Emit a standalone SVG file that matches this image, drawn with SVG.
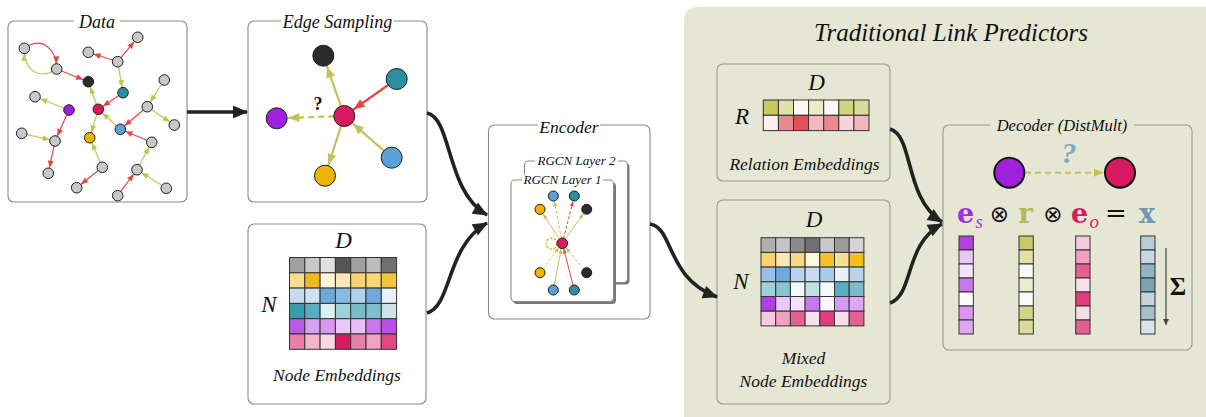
<svg xmlns="http://www.w3.org/2000/svg" width="1206" height="417" viewBox="0 0 1206 417">
<style>
.panel{fill:#fff;stroke:#8c8c8c;stroke-width:1.1}
.sub{fill:#e6e6d4;stroke:#9a9a90;stroke-width:1.1}
.ttl{font-family:"Liberation Serif",serif;font-style:italic;fill:#111;text-anchor:middle}
.nd{stroke:#1e1e1e;stroke-width:1}
.g{fill:#c8c8c8}
.er{stroke:#e04848;stroke-width:1.2;fill:none}
.eo{stroke:#c2c25a;stroke-width:1.2;fill:none}
.br{stroke:#e04848;stroke-width:2.2;fill:none}
.bo{stroke:#c2c25a;stroke-width:2.2;fill:none}
.sr{stroke:#e04848;stroke-width:1;fill:none}
.so{stroke:#c2c25a;stroke-width:1;fill:none}
.dash{stroke-dasharray:3,2}
.big{stroke:#222;stroke-width:3.6;fill:none}
.cell{stroke:#333;stroke-width:1}
.math{font-family:"Liberation Serif",serif;font-style:italic;fill:#111;text-anchor:middle}
</style>
<defs>
<marker id="mR" markerUnits="userSpaceOnUse" orient="auto" refX="12.6" refY="3" markerWidth="8" markerHeight="6" overflow="visible"><path d="M0,0 L7,3 L0,6 z" fill="#e04848"/></marker>
<marker id="mO" markerUnits="userSpaceOnUse" orient="auto" refX="12.6" refY="3" markerWidth="8" markerHeight="6" overflow="visible"><path d="M0,0 L7,3 L0,6 z" fill="#c2c25a"/></marker>
<marker id="bR" markerUnits="userSpaceOnUse" orient="auto" refX="22.5" refY="4.5" markerWidth="11" markerHeight="9" overflow="visible"><path d="M0,0 L11,4.5 L0,9 z" fill="#e04848"/></marker>
<marker id="bO" markerUnits="userSpaceOnUse" orient="auto" refX="22.5" refY="4.5" markerWidth="11" markerHeight="9" overflow="visible"><path d="M0,0 L11,4.5 L0,9 z" fill="#c2c25a"/></marker>
<marker id="sR" markerUnits="userSpaceOnUse" orient="auto" refX="10.5" refY="2" markerWidth="5" markerHeight="4" overflow="visible"><path d="M0,0 L5,2 L0,4 z" fill="#e04848"/></marker>
<marker id="sO" markerUnits="userSpaceOnUse" orient="auto" refX="10.5" refY="2" markerWidth="5" markerHeight="4" overflow="visible"><path d="M0,0 L5,2 L0,4 z" fill="#c2c25a"/></marker>
<marker id="dO" markerUnits="userSpaceOnUse" orient="auto" refX="10" refY="4" markerWidth="10" markerHeight="8" overflow="visible"><path d="M0,0 L10,4 L0,8 z" fill="#c2c25a"/></marker>
<marker id="big" markerUnits="userSpaceOnUse" orient="auto" refX="14" refY="6.5" markerWidth="15" markerHeight="13" overflow="visible"><path d="M0,0 L15,6.5 L0,13 z" fill="#222"/></marker>
<marker id="dn" markerUnits="userSpaceOnUse" orient="auto" refX="6" refY="3" markerWidth="6" markerHeight="6" overflow="visible"><path d="M0,0 L6,3 L0,6 z" fill="#444"/></marker>
</defs>

<!-- Traditional link predictors background -->
<g id="traditional">
<rect x="684" y="7" width="540" height="430" rx="13" fill="#e6e6d4"/>
<text class="ttl" x="951" y="41" font-size="25">Traditional Link Predictors</text>
</g>

<!-- Data -->
<g id="data">
<rect class="panel" x="8" y="21" width="179" height="181" rx="6"/>
<rect x="74" y="14" width="46" height="14" fill="#fff"/>
<text class="ttl" x="97" y="27.5" font-size="18">Data</text>
<path class="er" d="M24.3,48.3 C42,36 56,48 56.7,69" marker-end="url(#mR)"/>
<path class="eo" d="M56.7,69 C40,80 24,72 24.3,48.3" marker-end="url(#mO)"/>
<line class="er" x1="56.7" y1="69" x2="88.3" y2="81.7" marker-end="url(#mR)"/>
<line class="er" x1="117.7" y1="61.7" x2="88.3" y2="52.3" marker-end="url(#mR)"/>
<line class="er" x1="117.7" y1="61.7" x2="137.7" y2="37.3" marker-end="url(#mR)"/>
<line class="eo" x1="117.7" y1="61.7" x2="123" y2="92.7" marker-end="url(#mO)"/>
<line class="er" x1="123" y1="92.7" x2="98.3" y2="109.3" marker-end="url(#mR)"/>
<line class="eo" x1="98.3" y1="109.3" x2="88.3" y2="81.7" marker-end="url(#mO)"/>
<line class="eo" x1="69" y1="110" x2="35" y2="96.7" marker-end="url(#mO)"/>
<line class="er" x1="69" y1="110" x2="55" y2="141" marker-end="url(#mR)"/>
<line class="eo" x1="21.7" y1="133.3" x2="55" y2="141" marker-end="url(#mO)"/>
<line class="er" x1="55" y1="141" x2="48.3" y2="173.3" marker-end="url(#mR)"/>
<line class="eo" x1="98.3" y1="109.3" x2="89.7" y2="137.7" marker-end="url(#mO)"/>
<line class="eo" x1="120.3" y1="129.3" x2="98.3" y2="109.3" marker-end="url(#mO)"/>
<line class="eo" x1="164.3" y1="80" x2="147.3" y2="106.7" marker-end="url(#mO)"/>
<line class="er" x1="147.3" y1="106.7" x2="120.3" y2="129.3" marker-end="url(#mR)"/>
<line class="eo" x1="147.3" y1="106.7" x2="174.3" y2="125" marker-end="url(#mO)"/>
<line class="er" x1="151.7" y1="142.3" x2="120.3" y2="129.3" marker-end="url(#mR)"/>
<line class="eo" x1="102.3" y1="167.3" x2="89.7" y2="137.7" marker-end="url(#mO)"/>
<line class="er" x1="102.3" y1="167.3" x2="76.7" y2="187.7" marker-end="url(#mR)"/>
<line class="eo" x1="137" y1="169.7" x2="151.7" y2="142.3" marker-end="url(#mO)"/>
<line class="er" x1="117.7" y1="195.7" x2="137" y2="169.7" marker-end="url(#mR)"/>
<line class="eo" x1="166.3" y1="188.3" x2="137" y2="169.7" marker-end="url(#mO)"/>
<g class="nd">
<circle class="g" cx="24.3" cy="48.3" r="5.3"/>
<circle class="g" cx="56.7" cy="69" r="5.3"/>
<circle cx="88.3" cy="81.7" r="5.3" fill="#2b2b2b"/>
<circle class="g" cx="137.7" cy="37.3" r="5.3"/>
<circle class="g" cx="88.3" cy="52.3" r="5.3"/>
<circle class="g" cx="117.7" cy="61.7" r="5.3"/>
<circle cx="123" cy="92.7" r="5.3" fill="#2a8fa3"/>
<circle class="g" cx="164.3" cy="80" r="5.3"/>
<circle class="g" cx="35" cy="96.7" r="5.3"/>
<circle cx="69" cy="110" r="5.3" fill="#a020e0"/>
<circle cx="98.3" cy="109.3" r="5.3" fill="#d81b60"/>
<circle class="g" cx="147.3" cy="106.7" r="5.3"/>
<circle class="g" cx="174.3" cy="125" r="5.3"/>
<circle cx="120.3" cy="129.3" r="5.3" fill="#5ca0d8"/>
<circle class="g" cx="21.7" cy="133.3" r="5.3"/>
<circle class="g" cx="55" cy="141" r="5.3"/>
<circle cx="89.7" cy="137.7" r="5.3" fill="#f0b400"/>
<circle class="g" cx="151.7" cy="142.3" r="5.3"/>
<circle class="g" cx="48.3" cy="173.3" r="5.3"/>
<circle class="g" cx="102.3" cy="167.3" r="5.3"/>
<circle class="g" cx="137" cy="169.7" r="5.3"/>
<circle class="g" cx="76.7" cy="187.7" r="5.3"/>
<circle class="g" cx="117.7" cy="195.7" r="5.3"/>
<circle class="g" cx="166.3" cy="188.3" r="5.3"/>
</g>
</g>

<!-- Edge Sampling -->
<g id="edge-sampling">
<rect class="panel" x="248" y="21" width="179" height="181" rx="6"/>
<rect x="281" y="14" width="113" height="14" fill="#fff"/>
<text class="ttl" x="337.5" y="27.5" font-size="18">Edge Sampling</text>
<line class="bo" x1="344.3" y1="116" x2="323.3" y2="55.7" marker-end="url(#bO)"/>
<line class="br" x1="396.7" y1="79" x2="344.3" y2="116" marker-end="url(#bR)"/>
<line class="bo" x1="344.3" y1="116" x2="276.7" y2="118.3" stroke-dasharray="6,4" marker-end="url(#bO)"/>
<line class="bo" x1="391.7" y1="157.7" x2="344.3" y2="116" marker-end="url(#bO)"/>
<line class="bo" x1="344.3" y1="116" x2="325" y2="175.7" marker-end="url(#bO)"/>
<g class="nd" stroke-width="1.3">
<circle cx="323.3" cy="55.7" r="10.5" fill="#2b2b2b"/>
<circle cx="396.7" cy="79" r="10.5" fill="#2a8fa3"/>
<circle cx="276.7" cy="118.3" r="10.5" fill="#a020e0"/>
<circle cx="344.3" cy="116" r="10.5" fill="#d81b60"/>
<circle cx="391.7" cy="157.7" r="10.5" fill="#5ca0d8"/>
<circle cx="325" cy="175.7" r="10.5" fill="#f0b400"/>
</g>
<text x="318" y="110" font-family="Liberation Serif, serif" font-weight="bold" font-size="18" fill="#111" text-anchor="middle">?</text>
</g>

<!-- Node Embeddings -->
<g id="node-embeddings">
<rect class="panel" x="248" y="224" width="178" height="180" rx="6"/>
<text class="math" x="343.5" y="248" font-size="23">D</text>
<text class="math" x="269" y="312" font-size="23">N</text>
<g class="cell">
<rect x="289.5" y="257.5" width="15.3" height="15.3" fill="#a0a0a0"/><rect x="304.8" y="257.5" width="15.3" height="15.3" fill="#c8c8c8"/><rect x="320.1" y="257.5" width="15.3" height="15.3" fill="#e0e0e0"/><rect x="335.4" y="257.5" width="15.3" height="15.3" fill="#555555"/><rect x="350.7" y="257.5" width="15.3" height="15.3" fill="#a0a0a0"/><rect x="366" y="257.5" width="15.3" height="15.3" fill="#bcbcbc"/><rect x="381.3" y="257.5" width="15.3" height="15.3" fill="#707070"/>
<rect x="289.5" y="272.8" width="15.3" height="15.3" fill="#f9dc90"/><rect x="304.8" y="272.8" width="15.3" height="15.3" fill="#f0b820"/><rect x="320.1" y="272.8" width="15.3" height="15.3" fill="#fdf3d8"/><rect x="335.4" y="272.8" width="15.3" height="15.3" fill="#fbe8b8"/><rect x="350.7" y="272.8" width="15.3" height="15.3" fill="#f8d470"/><rect x="366" y="272.8" width="15.3" height="15.3" fill="#f9d878"/><rect x="381.3" y="272.8" width="15.3" height="15.3" fill="#f4c440"/>
<rect x="289.5" y="288.1" width="15.3" height="15.3" fill="#c8dcf0"/><rect x="304.8" y="288.1" width="15.3" height="15.3" fill="#cfe0f0"/><rect x="320.1" y="288.1" width="15.3" height="15.3" fill="#6ea8dc"/><rect x="335.4" y="288.1" width="15.3" height="15.3" fill="#88b8e4"/><rect x="350.7" y="288.1" width="15.3" height="15.3" fill="#b0d0ec"/><rect x="366" y="288.1" width="15.3" height="15.3" fill="#6ea8dc"/><rect x="381.3" y="288.1" width="15.3" height="15.3" fill="#e8f0f8"/>
<rect x="289.5" y="303.4" width="15.3" height="15.3" fill="#3a9ab0"/><rect x="304.8" y="303.4" width="15.3" height="15.3" fill="#5aacc0"/><rect x="320.1" y="303.4" width="15.3" height="15.3" fill="#dcf0f2"/><rect x="335.4" y="303.4" width="15.3" height="15.3" fill="#a0d0d8"/><rect x="350.7" y="303.4" width="15.3" height="15.3" fill="#78bcc8"/><rect x="366" y="303.4" width="15.3" height="15.3" fill="#80c0cc"/><rect x="381.3" y="303.4" width="15.3" height="15.3" fill="#cce4e8"/>
<rect x="289.5" y="318.7" width="15.3" height="15.3" fill="#b85ce8"/><rect x="304.8" y="318.7" width="15.3" height="15.3" fill="#d8a0f0"/><rect x="320.1" y="318.7" width="15.3" height="15.3" fill="#d898f0"/><rect x="335.4" y="318.7" width="15.3" height="15.3" fill="#e8c8f8"/><rect x="350.7" y="318.7" width="15.3" height="15.3" fill="#e8c0f8"/><rect x="366" y="318.7" width="15.3" height="15.3" fill="#c878ec"/><rect x="381.3" y="318.7" width="15.3" height="15.3" fill="#b850e8"/>
<rect x="289.5" y="334" width="15.3" height="15.3" fill="#e880a8"/><rect x="304.8" y="334" width="15.3" height="15.3" fill="#f4b4cc"/><rect x="320.1" y="334" width="15.3" height="15.3" fill="#f8d8e4"/><rect x="335.4" y="334" width="15.3" height="15.3" fill="#d81b60"/><rect x="350.7" y="334" width="15.3" height="15.3" fill="#e880a8"/><rect x="366" y="334" width="15.3" height="15.3" fill="#f4a0c0"/><rect x="381.3" y="334" width="15.3" height="15.3" fill="#e04880"/>
</g>
<text class="ttl" x="337" y="381" font-size="17.5">Node Embeddings</text>
</g>

<!-- Encoder -->
<g id="encoder">
<rect class="panel" x="488.5" y="125" width="161.5" height="194" rx="6"/>
<rect x="538" y="118" width="62" height="14" fill="#fff"/>
<text class="ttl" x="569" y="133" font-size="17.5">Encoder</text>
<g id="rgcn-layer-2">
<rect x="526.5" y="163" width="103" height="121.5" rx="4" fill="#777"/>
<rect class="panel" x="524.5" y="161" width="103" height="121.5" rx="4"/>
<rect x="535" y="156" width="83" height="10" fill="#fff"/>
<text class="ttl" x="576.5" y="165" font-size="13">RGCN Layer 2</text>
</g>
<g id="rgcn-layer-1">
<rect x="513" y="182.5" width="103" height="121.5" rx="4" fill="#777"/>
<rect class="panel" x="511" y="180" width="102.5" height="121.5" rx="4"/>
<rect x="522" y="175" width="81" height="10" fill="#fff"/>
<text class="ttl" x="562.5" y="184" font-size="13">RGCN Layer 1</text>
<circle cx="551.5" cy="243.6" r="5.6" fill="none" stroke="#f0a800" stroke-width="1.3" stroke-dasharray="2.5,1.5"/>
<line class="so" x1="562.3" y1="243.3" x2="540" y2="209.3" marker-end="url(#sO)"/>
<line class="so dash" x1="562.3" y1="243.3" x2="553.3" y2="196" marker-end="url(#sO)"/>
<line class="sr dash" x1="562.3" y1="243.3" x2="574.3" y2="196" marker-end="url(#sR)"/>
<line class="so" x1="562.3" y1="243.3" x2="586.7" y2="209.3" marker-end="url(#sO)"/>
<line class="so dash" x1="540" y1="272.7" x2="562.3" y2="243.3" marker-end="url(#sO)"/>
<line class="so dash" x1="586.7" y1="272.7" x2="562.3" y2="243.3" marker-end="url(#sO)"/>
<line class="so" x1="553.3" y1="290" x2="562.3" y2="243.3" marker-end="url(#sO)"/>
<line class="sr" x1="574.3" y1="290" x2="562.3" y2="243.3" marker-end="url(#sR)"/>
<g class="nd">
<circle cx="553.3" cy="196" r="5" fill="#5ca0d8"/>
<circle cx="574.3" cy="196" r="5" fill="#2a8fa3"/>
<circle cx="540" cy="209.3" r="5" fill="#f0b400"/>
<circle cx="586.7" cy="209.3" r="5" fill="#2b2b2b"/>
<circle cx="562.3" cy="243.3" r="5.3" fill="#d81b60"/>
<circle cx="540" cy="272.7" r="5" fill="#f0b400"/>
<circle cx="586.7" cy="272.7" r="5" fill="#2b2b2b"/>
<circle cx="553.3" cy="290" r="5" fill="#5ca0d8"/>
<circle cx="574.3" cy="290" r="5" fill="#2a8fa3"/>
</g>
</g>
</g>

<!-- Relation Embeddings -->
<g id="relation-embeddings">
<rect class="sub" x="717" y="64" width="173" height="117" rx="6"/>
<text class="math" x="816.5" y="90" font-size="23">D</text>
<text class="math" x="742" y="124" font-size="23">R</text>
<g class="cell">
<rect x="763.3" y="100" width="15.1" height="15.3" fill="#c8c860"/><rect x="778.4" y="100" width="15.1" height="15.3" fill="#e0e0a8"/><rect x="793.5" y="100" width="15.1" height="15.3" fill="#f8f8f0"/><rect x="808.6" y="100" width="15.1" height="15.3" fill="#ececc8"/><rect x="823.7" y="100" width="15.1" height="15.3" fill="#fafaf2"/><rect x="838.8" y="100" width="15.1" height="15.3" fill="#d0d480"/><rect x="853.9" y="100" width="15.1" height="15.3" fill="#d8dc98"/>
<rect x="763.3" y="115.3" width="15.1" height="15.3" fill="#fdf0f0"/><rect x="778.4" y="115.3" width="15.1" height="15.3" fill="#e88890"/><rect x="793.5" y="115.3" width="15.1" height="15.3" fill="#e05058"/><rect x="808.6" y="115.3" width="15.1" height="15.3" fill="#f4b8c0"/><rect x="823.7" y="115.3" width="15.1" height="15.3" fill="#ec8890"/><rect x="838.8" y="115.3" width="15.1" height="15.3" fill="#f8d4d8"/><rect x="853.9" y="115.3" width="15.1" height="15.3" fill="#f4b4bc"/>
</g>
<text class="ttl" x="804.5" y="170" font-size="17.5">Relation Embeddings</text>
</g>

<!-- Mixed Node Embeddings -->
<g id="mixed-node-embeddings">
<rect class="sub" x="717" y="200" width="173" height="204" rx="6"/>
<text class="math" x="814" y="227" font-size="23">D</text>
<text class="math" x="741" y="289" font-size="23">N</text>
<g class="cell">
<rect x="761" y="237.7" width="14.7" height="14.7" fill="#b0b0b0"/><rect x="775.7" y="237.7" width="14.7" height="14.7" fill="#c4c4c4"/><rect x="790.4" y="237.7" width="14.7" height="14.7" fill="#8c8c8c"/><rect x="805.1" y="237.7" width="14.7" height="14.7" fill="#707070"/><rect x="819.8" y="237.7" width="14.7" height="14.7" fill="#c8c8c8"/><rect x="834.5" y="237.7" width="14.7" height="14.7" fill="#9c9c9c"/><rect x="849.2" y="237.7" width="14.7" height="14.7" fill="#d4d4d4"/>
<rect x="761" y="252.4" width="14.7" height="14.7" fill="#f8d470"/><rect x="775.7" y="252.4" width="14.7" height="14.7" fill="#fbe8b8"/><rect x="790.4" y="252.4" width="14.7" height="14.7" fill="#f8d880"/><rect x="805.1" y="252.4" width="14.7" height="14.7" fill="#fdf6e0"/><rect x="819.8" y="252.4" width="14.7" height="14.7" fill="#f4c030"/><rect x="834.5" y="252.4" width="14.7" height="14.7" fill="#f9e098"/><rect x="849.2" y="252.4" width="14.7" height="14.7" fill="#f4c020"/>
<rect x="761" y="267.1" width="14.7" height="14.7" fill="#98c0e8"/><rect x="775.7" y="267.1" width="14.7" height="14.7" fill="#6ea8dc"/><rect x="790.4" y="267.1" width="14.7" height="14.7" fill="#b8d4ec"/><rect x="805.1" y="267.1" width="14.7" height="14.7" fill="#c8dcf0"/><rect x="819.8" y="267.1" width="14.7" height="14.7" fill="#a8cce8"/><rect x="834.5" y="267.1" width="14.7" height="14.7" fill="#e8f0f8"/><rect x="849.2" y="267.1" width="14.7" height="14.7" fill="#b8d4ec"/>
<rect x="761" y="281.8" width="14.7" height="14.7" fill="#a0d0dc"/><rect x="775.7" y="281.8" width="14.7" height="14.7" fill="#88c4d0"/><rect x="790.4" y="281.8" width="14.7" height="14.7" fill="#f0f8f8"/><rect x="805.1" y="281.8" width="14.7" height="14.7" fill="#c0e0e4"/><rect x="819.8" y="281.8" width="14.7" height="14.7" fill="#f4fafa"/><rect x="834.5" y="281.8" width="14.7" height="14.7" fill="#5aacc0"/><rect x="849.2" y="281.8" width="14.7" height="14.7" fill="#7cbcc8"/>
<rect x="761" y="296.5" width="14.7" height="14.7" fill="#b040e0"/><rect x="775.7" y="296.5" width="14.7" height="14.7" fill="#e8c8f8"/><rect x="790.4" y="296.5" width="14.7" height="14.7" fill="#f4e0fc"/><rect x="805.1" y="296.5" width="14.7" height="14.7" fill="#c878ec"/><rect x="819.8" y="296.5" width="14.7" height="14.7" fill="#fcf4fe"/><rect x="834.5" y="296.5" width="14.7" height="14.7" fill="#d898f0"/><rect x="849.2" y="296.5" width="14.7" height="14.7" fill="#dca8f4"/>
<rect x="761" y="311.2" width="14.7" height="14.7" fill="#f8c8dc"/><rect x="775.7" y="311.2" width="14.7" height="14.7" fill="#f0a0c0"/><rect x="790.4" y="311.2" width="14.7" height="14.7" fill="#e46090"/><rect x="805.1" y="311.2" width="14.7" height="14.7" fill="#fae0ec"/><rect x="819.8" y="311.2" width="14.7" height="14.7" fill="#e03c80"/><rect x="834.5" y="311.2" width="14.7" height="14.7" fill="#fadce8"/><rect x="849.2" y="311.2" width="14.7" height="14.7" fill="#e46090"/>
</g>
<text class="ttl" x="803.5" y="364" font-size="17.5">Mixed</text>
<text class="ttl" x="803.5" y="387" font-size="17.5">Node Embeddings</text>
</g>

<!-- Decoder -->
<g id="decoder">
<rect class="sub" x="943" y="125" width="249" height="225" rx="6"/>
<rect x="990" y="118" width="144" height="14" fill="#e6e6d4"/>
<text class="ttl" x="1062" y="131" font-size="16.5">Decoder (DistMult)</text>
<line x1="1025" y1="172.7" x2="1104" y2="172.7" stroke="#c2c25a" stroke-width="2" stroke-dasharray="6,4" marker-end="url(#dO)"/>
<circle cx="1009.3" cy="172.7" r="15" fill="#a020e0" stroke="#111" stroke-width="2"/>
<circle cx="1120" cy="172.7" r="15" fill="#d81b60" stroke="#111" stroke-width="2"/>
<text x="1069" y="163" font-family="Liberation Serif, serif" font-weight="bold" font-style="italic" font-size="30" fill="#80a8c0" text-anchor="middle">?</text>
<g font-family="DejaVu Serif, serif" font-weight="bold" font-size="27">
<text x="957" y="223" fill="#a030e0">e</text>
<text x="1018.5" y="223" fill="#b8b850">r</text>
<text x="1071" y="223" fill="#d81b60">e</text>
<text x="1139" y="223" fill="#6e98b0">x</text>
</g>
<text x="975.5" y="228" font-family="Liberation Serif, serif" font-style="italic" font-size="19" fill="#a030e0">s</text>
<text x="1089.5" y="228" font-family="Liberation Serif, serif" font-style="italic" font-size="19" fill="#d81b60">o</text>
<g font-family="DejaVu Sans, sans-serif" font-size="23" fill="#111" text-anchor="middle">
<text x="999.5" y="222">⊗</text>
<text x="1053" y="222">⊗</text>
</g>
<text x="1116" y="222" font-family="DejaVu Serif, serif" font-size="26" fill="#111" text-anchor="middle">=</text>
<g class="cell">
<rect x="959" y="236" width="14.3" height="14" fill="#b040e0"/><rect x="959" y="250" width="14.3" height="14" fill="#e8c8f8"/><rect x="959" y="264" width="14.3" height="14" fill="#f4e4fc"/><rect x="959" y="278" width="14.3" height="14" fill="#c878ec"/><rect x="959" y="292" width="14.3" height="14" fill="#fefafe"/><rect x="959" y="306" width="14.3" height="14" fill="#d898f0"/><rect x="959" y="320" width="14.3" height="14" fill="#dca8f4"/>
<rect x="1019" y="236" width="14.3" height="14" fill="#c8c868"/><rect x="1019" y="250" width="14.3" height="14" fill="#e0e0a8"/><rect x="1019" y="264" width="14.3" height="14" fill="#f8f8f4"/><rect x="1019" y="278" width="14.3" height="14" fill="#ececcc"/><rect x="1019" y="292" width="14.3" height="14" fill="#fafaf6"/><rect x="1019" y="306" width="14.3" height="14" fill="#d0d484"/><rect x="1019" y="320" width="14.3" height="14" fill="#d8dc98"/>
<rect x="1075.7" y="236" width="14.3" height="14" fill="#f8c8dc"/><rect x="1075.7" y="250" width="14.3" height="14" fill="#f0a0c0"/><rect x="1075.7" y="264" width="14.3" height="14" fill="#e46090"/><rect x="1075.7" y="278" width="14.3" height="14" fill="#fae0ec"/><rect x="1075.7" y="292" width="14.3" height="14" fill="#e03c80"/><rect x="1075.7" y="306" width="14.3" height="14" fill="#fadce8"/><rect x="1075.7" y="320" width="14.3" height="14" fill="#e46090"/>
<rect x="1140.7" y="236" width="14.3" height="14" fill="#b8ccd8"/><rect x="1140.7" y="250" width="14.3" height="14" fill="#c8d8e0"/><rect x="1140.7" y="264" width="14.3" height="14" fill="#90b4c4"/><rect x="1140.7" y="278" width="14.3" height="14" fill="#78a4b4"/><rect x="1140.7" y="292" width="14.3" height="14" fill="#c4d4dc"/><rect x="1140.7" y="306" width="14.3" height="14" fill="#a0c0cc"/><rect x="1140.7" y="320" width="14.3" height="14" fill="#d8e4ea"/>
</g>
<line x1="1166" y1="248" x2="1166" y2="325" stroke="#444" stroke-width="1.2" marker-end="url(#dn)"/>
<text x="1178" y="295" font-family="Liberation Serif, serif" font-weight="bold" font-size="25" fill="#111" text-anchor="middle">Σ</text>
</g>

<!-- Connectors -->
<g id="connectors">
<line class="big" x1="187" y1="112" x2="247" y2="112" marker-end="url(#big)"/>
<path class="big" d="M427,113 C452,118 446,192 487,215" marker-end="url(#big)"/>
<path class="big" d="M427,313 C452,306 446,246 487,223" marker-end="url(#big)"/>
<path class="big" d="M650,224 C674,228 666,278 717,297" marker-end="url(#big)"/>
<path class="big" d="M890,129 C914,136 904,198 942,222" marker-end="url(#big)"/>
<path class="big" d="M890,303 C914,295 904,244 942,224" marker-end="url(#big)"/>
</g>
</svg>
